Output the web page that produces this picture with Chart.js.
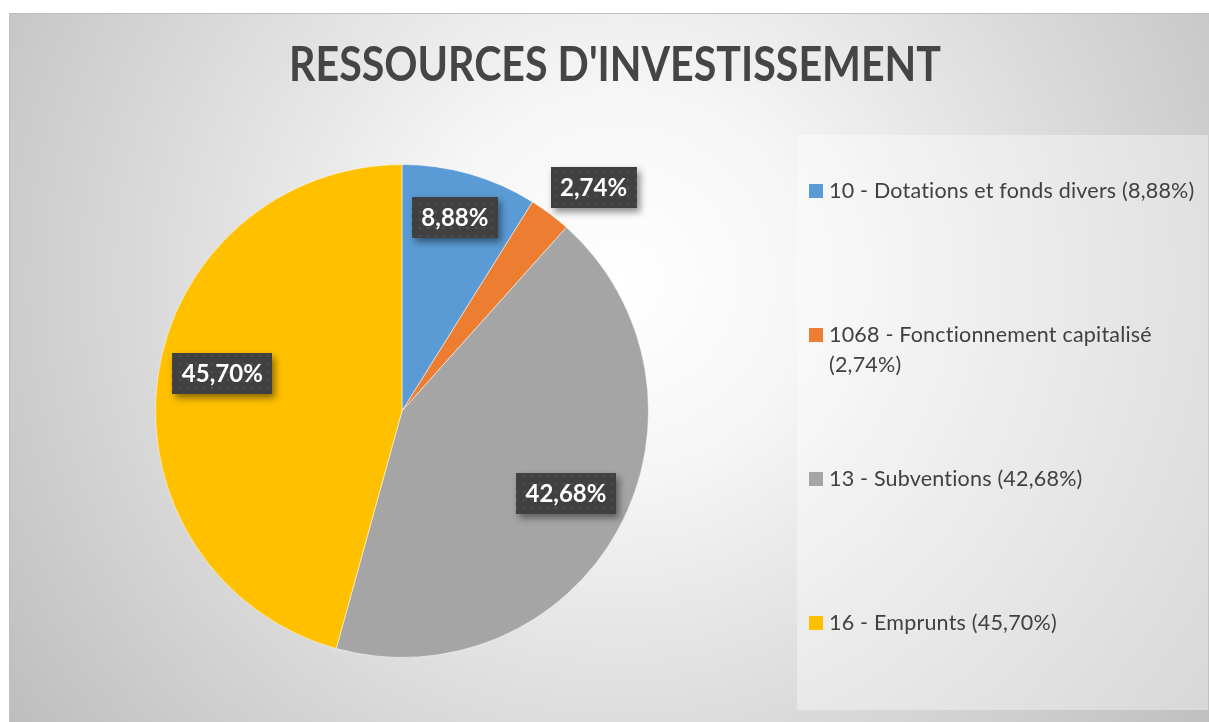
<!DOCTYPE html>
<html><head><meta charset="utf-8">
<script src="https://cdn.jsdelivr.net/npm/chart.js@4/dist/chart.umd.min.js"></script>
<style>html,body{margin:0;padding:0;background:#fff;overflow:hidden}#wrap{position:relative;width:1209px;height:722px}</style>
</head><body><div id="wrap"><canvas id="c" width="1209" height="722"></canvas></div>
<script>
const categories = ['10 - Dotations et fonds divers', '1068 - Fonctionnement capitalisé', '13 - Subventions', '16 - Emprunts'];
const percentages = [8.88, 2.74, 42.68, 45.70];
const sliceColors = ['#5B9BD5', '#ED7D31', '#A5A5A5', '#FFC000'];
const chartTitle = "RESSOURCES D'INVESTISSEMENT";

const fmt = v => v.toFixed(2).replace('.', ',') + '%';
// label placement (radius factor, angle shift in degrees)
const labelPlacement = [{r: 0.814, da: -0.7}, {r: 1.194, da: 3.7}, {r: 0.745, da: -1.9}, {r: 0.745, da: 4.2}];

const FRAME = {x: 9, y: 13, w: 1200, h: 709};
const LEGEND_BOX = {x: 797, y: 135, w: 411, h: 575};

function makePattern(ctx) {
  const p = document.createElement('canvas');
  p.width = 8; p.height = 8;
  const c = p.getContext('2d');
  c.fillStyle = '#404040'; c.fillRect(0, 0, 8, 8);
  c.fillStyle = 'rgba(255,255,255,0.07)';
  c.beginPath(); c.arc(4, 4, 1.6, 0, Math.PI * 2); c.fill();
  return ctx.createPattern(p, 'repeat');
}

const backgroundPlugin = {
  id: 'bg',
  beforeDraw(chart) {
    const ctx = chart.ctx;
    ctx.save();
    const g = ctx.createRadialGradient(620, 280, 0, 620, 280, 760);
    g.addColorStop(0, '#ffffff');
    g.addColorStop(0.25, '#f6f6f6');
    g.addColorStop(1, '#bdbdbd');
    ctx.fillStyle = g;
    ctx.fillRect(FRAME.x, FRAME.y, FRAME.w, FRAME.h);
    ctx.strokeStyle = '#bfbfbf'; ctx.lineWidth = 1;
    ctx.beginPath();
    ctx.moveTo(FRAME.x + 0.5, FRAME.y + FRAME.h); ctx.lineTo(FRAME.x + 0.5, FRAME.y + 0.5); ctx.lineTo(FRAME.x + FRAME.w, FRAME.y + 0.5);
    ctx.stroke();
    // title
    ctx.fillStyle = '#454545';
    ctx.font = 'bold 47px Lato';
    ctx.textBaseline = 'middle';
    ctx.textAlign = 'left';
    const tw = ctx.measureText(chartTitle).width;
    const sx = 652 / tw;
    ctx.translate(289, 66);
    ctx.scale(sx, 1);
    ctx.fillText(chartTitle, 0, 0);
    ctx.restore();

    // legend
    ctx.save();
    ctx.fillStyle = 'rgba(255,255,255,0.38)';
    ctx.fillRect(LEGEND_BOX.x, LEGEND_BOX.y, LEGEND_BOX.w, LEGEND_BOX.h);
    ctx.font = '21.5px Lato';
    if ('letterSpacing' in ctx) ctx.letterSpacing = '0.2px';
    ctx.textBaseline = 'middle';
    ctx.textAlign = 'left';
    const maxW = 372;
    categories.forEach((cat, i) => {
      const cy = 191 + i * 144;
      ctx.fillStyle = sliceColors[i];
      ctx.fillRect(809, cy - 7, 14, 14);
      ctx.fillStyle = '#404040';
      const words = (cat + ' (' + fmt(percentages[i]) + ')').split(' ');
      let line = '', y = cy;
      words.forEach(w => {
        const test = line ? line + ' ' + w : w;
        if (ctx.measureText(test).width > maxW && line) {
          ctx.fillText(line, 829, y); y += 30; line = w;
        } else line = test;
      });
      ctx.fillText(line, 829, y);
    });
    ctx.restore();
  }
};

const labelPlugin = {
  id: 'labels',
  afterDatasetsDraw(chart) {
    const ctx = chart.ctx;
    const meta = chart.getDatasetMeta(0);
    const pat = makePattern(ctx);
    ctx.save();
    ctx.font = 'bold 24px Lato';
    ctx.textBaseline = 'middle';
    ctx.textAlign = 'center';
    meta.data.forEach((arc, i) => {
      const p = arc.getProps(['x', 'y', 'startAngle', 'endAngle', 'outerRadius'], true);
      const a = (p.startAngle + p.endAngle) / 2 + labelPlacement[i].da * Math.PI / 180;
      const r = p.outerRadius * labelPlacement[i].r;
      const cx = p.x + Math.cos(a) * r, cy = p.y + Math.sin(a) * r;
      const txt = fmt(percentages[i]);
      const w = ctx.measureText(txt).width + 19, h = 41;
      ctx.save();
      ctx.shadowColor = 'rgba(0,0,0,0.45)';
      ctx.shadowBlur = 7; ctx.shadowOffsetX = 3; ctx.shadowOffsetY = 4;
      ctx.fillStyle = '#404040';
      ctx.fillRect(Math.round(cx - w / 2), Math.round(cy - h / 2), Math.round(w), h);
      ctx.restore();
      ctx.fillStyle = pat;
      ctx.fillRect(Math.round(cx - w / 2), Math.round(cy - h / 2), Math.round(w), h);
      ctx.fillStyle = '#ffffff';
      ctx.fillText(txt, cx, cy + 1);
    });
    ctx.restore();
  }
};

new Chart(document.getElementById('c'), {
  type: 'pie',
  data: {
    labels: categories,
    datasets: [{
      data: percentages,
      backgroundColor: sliceColors,
      borderColor: 'rgba(255,255,255,0.5)',
      borderWidth: 1
    }]
  },
  options: {
    responsive: false,
    animation: false,
    devicePixelRatio: 1,
    layout: {padding: {left: 155, top: 164, right: 560, bottom: 64}},
    plugins: {legend: {display: false}, title: {display: false}, tooltip: {enabled: false}}
  },
  plugins: [backgroundPlugin, labelPlugin]
});
</script>
</body></html>
